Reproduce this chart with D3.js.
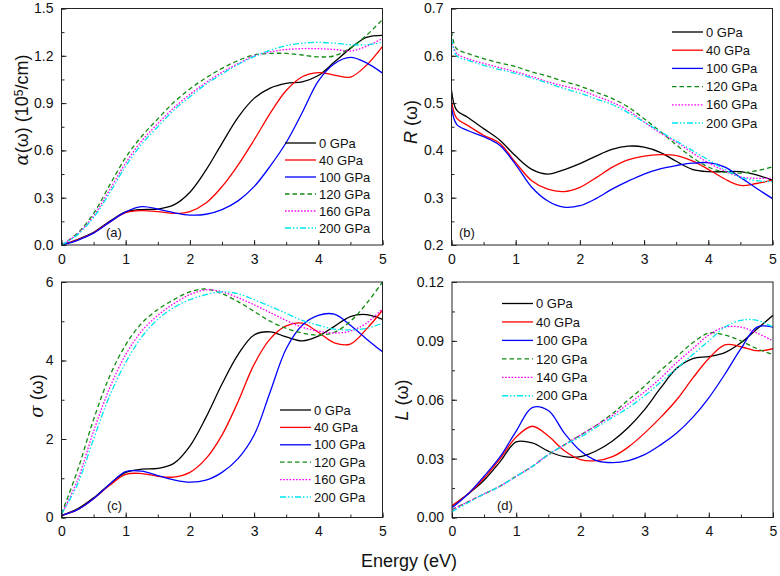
<!DOCTYPE html>
<html><head><meta charset="utf-8">
<script src="https://cdn.jsdelivr.net/npm/d3@7"></script>
<style>body{margin:0;background:#fff}svg{display:block}text{font-family:Arial,"Liberation Sans",sans-serif}</style>
</head><body>
<svg id="c" width="780" height="576"></svg>
<script>
// ---------- data ----------
const energy = [0,0.25,0.5,0.75,1,1.25,1.5,1.75,2,2.25,2.5,2.75,3,3.25,3.5,3.75,4,4.25,4.5,4.75,5];
const energyR = [0,0.08,0.25,0.5,0.75,1,1.25,1.5,1.75,2,2.25,2.5,2.75,3,3.25,3.5,3.75,4,4.25,4.5,4.75,5];

const seriesNamesABC = ["0 GPa","40 GPa","100 GPa","120 GPa","160 GPa","200 GPa"];
const seriesNamesD   = ["0 GPa","40 GPa","100 GPa","120 GPa","140 GPa","200 GPa"];

// (a) absorption alpha (10^5/cm)
const alpha0   = [0,0.035,0.08,0.15,0.21,0.225,0.228,0.254,0.335,0.475,0.645,0.81,0.93,0.995,1.025,1.035,1.075,1.16,1.247,1.317,1.33];
const alpha40  = [0,0.033,0.078,0.145,0.205,0.218,0.212,0.2,0.212,0.266,0.37,0.507,0.666,0.835,0.98,1.067,1.093,1.078,1.065,1.14,1.26];
const alpha100 = [0,0.03,0.075,0.145,0.21,0.243,0.228,0.205,0.19,0.195,0.225,0.28,0.37,0.5,0.65,0.84,1.04,1.15,1.19,1.155,1.09];
const alpha120 = [0,0.075,0.2,0.38,0.555,0.69,0.8,0.905,0.99,1.06,1.12,1.17,1.205,1.215,1.215,1.205,1.193,1.2,1.25,1.33,1.43];
const alpha160 = [0,0.07,0.185,0.35,0.52,0.66,0.77,0.87,0.955,1.03,1.095,1.15,1.2,1.225,1.24,1.245,1.245,1.24,1.23,1.26,1.31];
const alpha200 = [0,0.065,0.175,0.33,0.5,0.64,0.75,0.855,0.94,1.02,1.085,1.145,1.195,1.235,1.265,1.28,1.285,1.28,1.27,1.27,1.285];

// (b) reflectivity R
const refl0   = [0.527,0.485,0.47,0.446,0.422,0.388,0.36,0.35,0.359,0.372,0.388,0.402,0.409,0.407,0.396,0.377,0.36,0.355,0.355,0.355,0.348,0.337];
const refl40  = [0.506,0.468,0.453,0.432,0.415,0.374,0.336,0.318,0.313,0.322,0.342,0.364,0.38,0.388,0.391,0.389,0.378,0.36,0.34,0.326,0.33,0.337];
const refl100 = [0.492,0.455,0.442,0.429,0.411,0.37,0.322,0.293,0.28,0.283,0.298,0.318,0.335,0.35,0.361,0.368,0.373,0.374,0.365,0.343,0.32,0.298];
const refl120 = [0.651,0.615,0.605,0.594,0.585,0.577,0.566,0.557,0.546,0.536,0.523,0.51,0.492,0.467,0.44,0.412,0.385,0.365,0.354,0.352,0.357,0.365];
const refl160 = [0.633,0.605,0.594,0.584,0.575,0.566,0.556,0.545,0.536,0.528,0.515,0.502,0.485,0.46,0.437,0.418,0.395,0.374,0.357,0.344,0.341,0.341];
const refl200 = [0.637,0.6,0.591,0.58,0.571,0.563,0.553,0.542,0.531,0.521,0.509,0.497,0.48,0.46,0.44,0.42,0.4,0.38,0.36,0.343,0.336,0.334];

// (c) conductivity sigma
const sigma0   = [0.05,0.22,0.5,0.85,1.15,1.23,1.25,1.38,1.82,2.55,3.4,4.15,4.65,4.73,4.6,4.5,4.62,4.87,5.12,5.17,5.05];
const sigma40  = [0.05,0.2,0.48,0.82,1.1,1.12,1.05,1.03,1.15,1.5,2.1,2.95,3.9,4.55,4.88,4.95,4.72,4.45,4.42,4.8,5.28];
const sigma100 = [0.05,0.2,0.48,0.85,1.17,1.18,1.07,0.96,0.9,0.95,1.15,1.5,2.1,3.2,4.3,4.9,5.15,5.18,4.9,4.55,4.22];
const sigma120 = [0.1,1.2,2.5,3.6,4.4,4.95,5.3,5.55,5.75,5.82,5.7,5.5,5.25,5.0,4.82,4.7,4.65,4.72,5.0,5.45,6.0];
const sigma160 = [0.08,0.95,2.2,3.3,4.15,4.75,5.15,5.45,5.68,5.8,5.75,5.6,5.42,5.22,5.02,4.85,4.75,4.7,4.75,4.95,5.32];
const sigma200 = [0.08,0.85,2.0,3.1,3.95,4.6,5.05,5.35,5.55,5.68,5.75,5.7,5.55,5.38,5.2,5.02,4.9,4.8,4.78,4.82,4.95];

// (d) energy loss L
const loss0   = [0.006,0.012,0.019,0.0285,0.0385,0.038,0.0338,0.031,0.031,0.034,0.039,0.046,0.055,0.066,0.076,0.081,0.082,0.084,0.089,0.096,0.103];
const loss40  = [0.006,0.012,0.02,0.03,0.041,0.0465,0.0415,0.034,0.0295,0.029,0.031,0.036,0.043,0.051,0.06,0.071,0.081,0.088,0.087,0.085,0.086];
const loss100 = [0.005,0.012,0.021,0.031,0.044,0.056,0.0545,0.043,0.034,0.029,0.028,0.029,0.032,0.037,0.043,0.051,0.061,0.073,0.086,0.097,0.097];
const loss120 = [0.004,0.008,0.012,0.016,0.021,0.026,0.032,0.037,0.042,0.047,0.053,0.06,0.067,0.075,0.082,0.089,0.094,0.093,0.09,0.086,0.083];
const loss140 = [0.004,0.008,0.012,0.016,0.021,0.026,0.032,0.037,0.042,0.047,0.052,0.058,0.064,0.071,0.079,0.086,0.093,0.097,0.097,0.094,0.09];
const loss200 = [0.003,0.0075,0.012,0.016,0.021,0.026,0.032,0.037,0.041,0.046,0.051,0.056,0.062,0.069,0.076,0.083,0.09,0.097,0.1005,0.1005,0.097];

const xTicks = [0,1,2,3,4,5];
const yTicksA = [0,0.3,0.6,0.9,1.2,1.5];
const yTicksB = [0.2,0.3,0.4,0.5,0.6,0.7];
const yTicksC = [0,2,4,6];
const yTicksD = [0,0.03,0.06,0.09,0.12];

// ---------- styles ----------
const colors = ["#000000","#ff0000","#0000ff","#108a10","#ff00ff","#00e5ee"];
const dashes = [null,null,null,"4.5,3","1.6,1.6","6,2,1.5,2,1.5,2"];

const panels = [
  {id:"a", x0:61.5, x1:382.5, y0:8.5, y1:245, E:energy, ser:[alpha0,alpha40,alpha100,alpha120,alpha160,alpha200], names:seriesNamesABC,
   dom:[0,1.5], ticks:yTicksA, minor:0.15, fmt:d3.format(".1f"), leg:{x:285,y:143,dy:17}, lab:{x:106,y:237}},
  {id:"b", x0:451.5, x1:772.5, y0:8.5, y1:245, E:energyR, ser:[refl0,refl40,refl100,refl120,refl160,refl200], names:seriesNamesABC,
   dom:[0.2,0.7], ticks:yTicksB, minor:0.05, fmt:d3.format(".1f"), leg:{x:672,y:32,dy:18.2}, lab:{x:459,y:237}},
  {id:"c", x0:61.5, x1:382.5, y0:282, y1:517.5, E:energy, ser:[sigma0,sigma40,sigma100,sigma120,sigma160,sigma200], names:seriesNamesABC,
   dom:[0,6], ticks:yTicksC, minor:1, fmt:d3.format("d"), leg:{x:280,y:410,dy:17.4}, lab:{x:107,y:510}},
  {id:"d", x0:452, x1:773, y0:282, y1:517.5, E:energy, ser:[loss0,loss40,loss100,loss120,loss140,loss200], names:seriesNamesD,
   dom:[0,0.12], ticks:yTicksD, minor:0.015, fmt:d3.format(".2f"), leg:{x:502,y:303.5,dy:18.45}, lab:{x:497,y:510}}
];

const svg = d3.select("#c");
const defs = svg.append("defs");

panels.forEach(p => {
  const x = d3.scaleLinear().domain([0,5]).range([p.x0,p.x1]);
  const y = d3.scaleLinear().domain(p.dom).range([p.y1,p.y0]);
  const g = svg.append("g");
  defs.append("clipPath").attr("id","clip"+p.id).append("rect")
    .attr("x",p.x0).attr("y",p.y0).attr("width",p.x1-p.x0).attr("height",p.y1-p.y0);

  // curves
  const line = d3.line().x((d,i)=>x(p.E[i])).y(d=>y(d)).curve(d3.curveCatmullRom.alpha(0.5));
  const cg = g.append("g").attr("clip-path","url(#clip"+p.id+")");
  p.ser.forEach((s,i)=>{
    cg.append("path").datum(s).attr("d",line).attr("fill","none")
      .attr("stroke",colors[i]).attr("stroke-width",1.3)
      .attr("stroke-dasharray",dashes[i]);
  });

  // axes (ticks inward)
  const xMinor = d3.range(0,5.001,0.5);
  g.append("g").attr("transform",`translate(0,${p.y1})`)
    .call(d3.axisBottom(x).tickValues(xMinor).tickSize(-3).tickFormat(""))
    .call(a=>a.select(".domain").remove());
  g.append("g").attr("transform",`translate(0,${p.y1})`)
    .call(d3.axisBottom(x).tickValues(xTicks).tickSizeInner(-5).tickSizeOuter(0).tickPadding(9).tickFormat(d3.format("d")))
    .call(a=>a.select(".domain").remove())
    .call(a=>a.selectAll("text").attr("font-size",14).attr("fill","#111"));
  const yMinor = d3.range(p.dom[0], p.dom[1]+1e-9, p.minor);
  g.append("g").attr("transform",`translate(${p.x0},0)`)
    .call(d3.axisLeft(y).tickValues(yMinor).tickSize(-3).tickFormat(""))
    .call(a=>a.select(".domain").remove());
  g.append("g").attr("transform",`translate(${p.x0},0)`)
    .call(d3.axisLeft(y).tickValues(p.ticks).tickSizeInner(-5).tickSizeOuter(0).tickPadding(8).tickFormat(p.fmt))
    .call(a=>a.select(".domain").remove())
    .call(a=>a.selectAll("text").attr("font-size",14).attr("fill","#111"));
  g.selectAll(".tick line").attr("stroke","#222");

  // frame
  g.append("rect").attr("x",p.x0).attr("y",p.y0).attr("width",p.x1-p.x0).attr("height",p.y1-p.y0)
    .attr("fill","none").attr("stroke","#222").attr("stroke-width",1);

  // legend
  p.names.forEach((n,i)=>{
    const yy = p.leg.y + i*p.leg.dy;
    g.append("line").attr("x1",p.leg.x).attr("x2",p.leg.x+31).attr("y1",yy).attr("y2",yy)
      .attr("stroke",colors[i]).attr("stroke-width",1.3).attr("stroke-dasharray",dashes[i]);
    g.append("text").attr("x",p.leg.x+34).attr("y",yy).attr("dy","0.36em")
      .attr("font-size",13).attr("fill","#111").text(n);
  });

  // panel label
  g.append("text").attr("x",p.lab.x).attr("y",p.lab.y).attr("font-size",13).attr("fill","#111").text("("+p.id+")");
});

// y-axis titles
function ytitle(cx, cy, build){
  const t = svg.append("text").attr("transform",`translate(${cx},${cy}) rotate(-90)`)
    .attr("text-anchor","middle").attr("font-size",18).attr("fill","#111");
  build(t);
}
ytitle(28,110,t=>{
  t.append("tspan").attr("font-style","italic").attr("font-family","'DejaVu Serif',serif").text("α");
  t.append("tspan").text("(ω) (10");
  t.append("tspan").attr("font-size",12).attr("baseline-shift","40%").text("5");
  t.append("tspan").text("/cm)");
});
ytitle(417,122,t=>{
  t.append("tspan").attr("font-style","italic").text("R");
  t.append("tspan").text(" (ω)");
});
ytitle(43,396,t=>{
  t.append("tspan").attr("font-style","italic").attr("font-family","'DejaVu Serif',serif").text("σ");
  t.append("tspan").text(" (ω)");
});
ytitle(408,400,t=>{
  t.append("tspan").attr("font-style","italic").text("L");
  t.append("tspan").text(" (ω)");
});

svg.append("text").attr("x",409).attr("y",567).attr("text-anchor","middle")
  .attr("font-size",18).attr("fill","#111").text("Energy (eV)");
</script>
</body></html>
